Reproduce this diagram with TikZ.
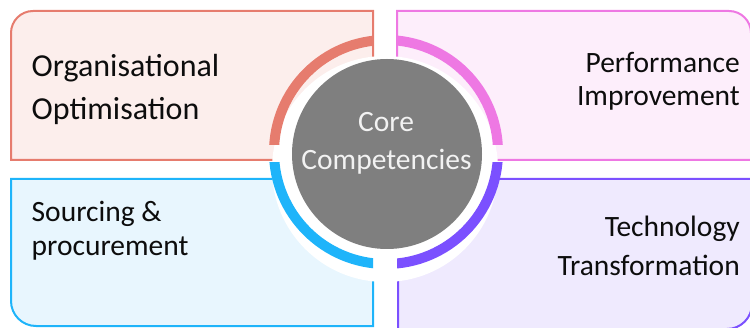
\documentclass[tikz,border=0pt]{standalone}
\usepackage{fontspec}
\setmainfont{Carlito}
\definecolor{orgline}{HTML}{E67C6E}
\definecolor{orgfill}{HTML}{FCEEEC}
\definecolor{perfline}{HTML}{EE78E3}
\definecolor{perffill}{HTML}{FDEEFB}
\definecolor{srcline}{HTML}{1EB4FA}
\definecolor{srcfill}{HTML}{E8F6FE}
\definecolor{techline}{HTML}{7B50FF}
\definecolor{techfill}{HTML}{EFEAFE}
\definecolor{coregray}{HTML}{7F7F7F}
\definecolor{txt}{HTML}{0D0D0D}
\definecolor{coretxt}{HTML}{F2F2F2}
\tikzset{
  boxline/.style={line width=2pt},
  ringarc/.style={line width=10pt},
  lbl/.style={inner sep=0pt, text=txt, font=\fontsize{29.5}{33}\selectfont},
  biglbl/.style={inner sep=0pt, text=txt, font=\fontsize{32}{40}\selectfont},
  corelbl/.style={inner sep=0pt, text=coretxt, font=\fontsize{29.5}{33}\selectfont},
}
\begin{document}
\begin{tikzpicture}[x=1pt,y=1pt]
\useasboundingbox (0,0) rectangle (750,327);
% quadrant boxes
\draw[boxline, draw=orgline, fill=orgfill]
  (373,167) -- (373,316) -- (33,316) arc[start angle=90,end angle=180,radius=22pt] -- (11,167) -- cycle;
\draw[boxline, draw=perfline, fill=perffill]
  (397,167) -- (397,316) -- (729,316) arc[start angle=90,end angle=0,radius=22pt] -- (751,167) -- cycle;
\draw[boxline, draw=srcline, fill=srcfill]
  (373,148) -- (373,1) -- (36,1) arc[start angle=270,end angle=180,radius=25pt] -- (11,148) -- cycle;
\draw[boxline, draw=techline, fill=techfill]
  (398,148) -- (398,-2) -- (727,-2) arc[start angle=270,end angle=360,radius=25pt] -- (752,148) -- cycle;
% white halo
\fill[white] (385,158) circle[radius=113pt];
% ring arcs
\coordinate (rc) at (386,175);
\begin{scope}
  \clip (200,182) rectangle (373,327);
  \draw[ringarc, orgline] (rc) circle[radius=112pt];
\end{scope}
\begin{scope}
  \clip (397,182) rectangle (600,327);
  \draw[ringarc, perfline] (rc) circle[radius=112pt];
\end{scope}
\begin{scope}
  \clip (200,0) rectangle (373,164);
  \draw[ringarc, srcline] (rc) circle[radius=112pt];
\end{scope}
\begin{scope}
  \clip (397,0) rectangle (600,164);
  \draw[ringarc, techline] (rc) circle[radius=112pt];
\end{scope}
% core circle
\node[circle, fill=coregray, minimum size=190pt, inner sep=0pt] (core) at (387,173) {};
\node[corelbl, anchor=base] (core1) at (386,195) {Core};
\node[corelbl, anchor=base] (core2) at (386.5,157) {Competencies};
% labels
\node[biglbl, anchor=base west] (org1) at (31.5,250) {Organisational};
\node[biglbl, anchor=base west] (org2) at (31.5,207) {Optimisation};
\node[lbl, anchor=base east] (perf1) at (740,254) {Performance};
\node[lbl, anchor=base east] (perf2) at (740,221) {Improvement};
\node[lbl, anchor=base west] (src1) at (31.5,105) {Sourcing \&};
\node[lbl, anchor=base west] (src2) at (31.5,71) {procurement};
\node[lbl, anchor=base east] (tech1) at (740,91) {Technology};
\node[lbl, anchor=base east] (tech2) at (740,52) {Transformation};
\end{tikzpicture}
\end{document}
